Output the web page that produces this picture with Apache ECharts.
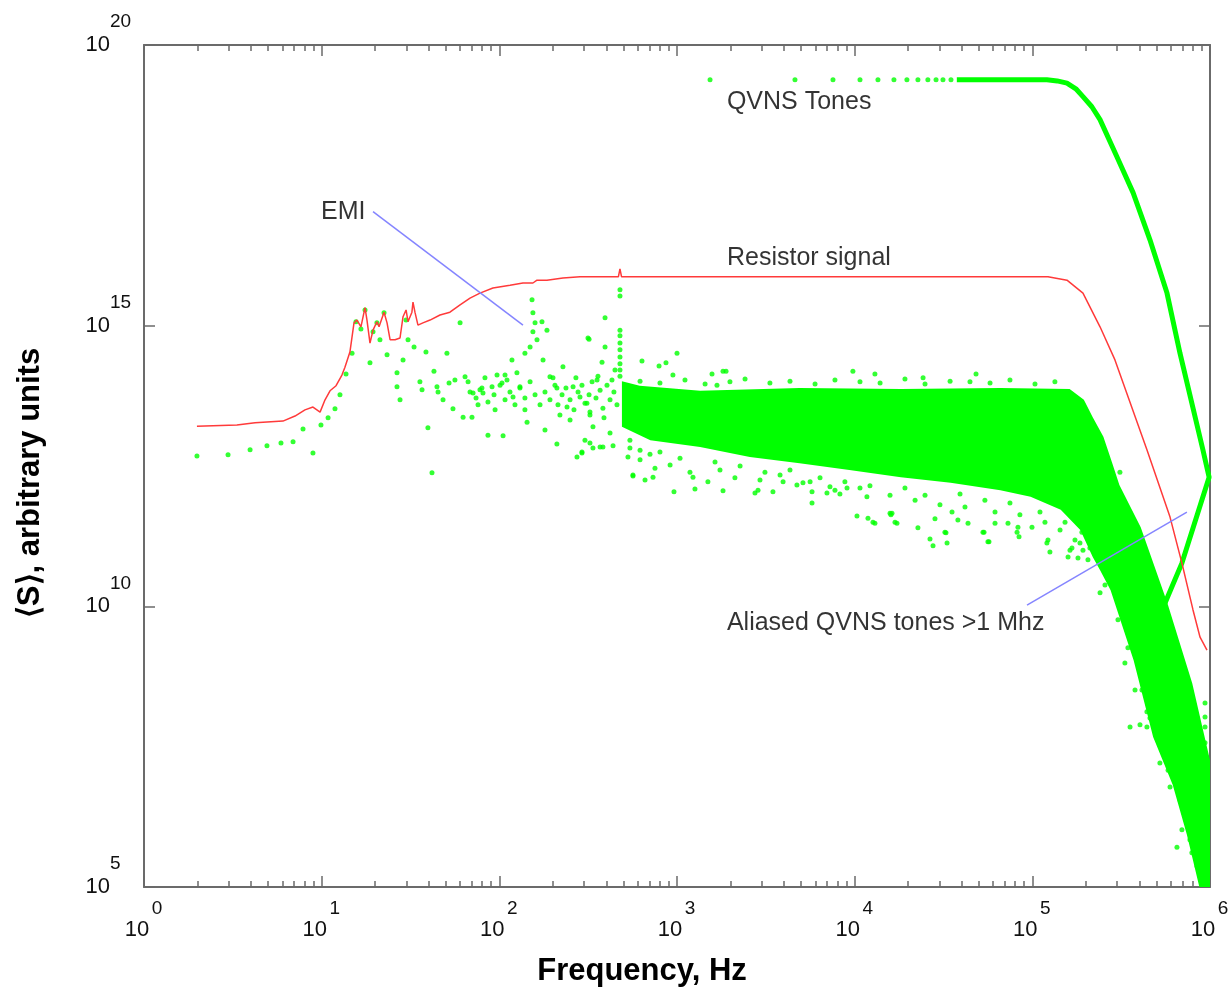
<!DOCTYPE html>
<html>
<head>
<meta charset="utf-8">
<script src="https://cdn.jsdelivr.net/npm/echarts@6/dist/echarts.min.js"></script>
<style>
  html, body { margin: 0; padding: 0; background: #fff; }
  #chart { width: 1231px; height: 996px; }
</style>
</head>
<body>
<div id="chart"></div>
<script>
// every point is [log10 frequency (Hz), log10 <S>]

const resistorSignal = [
  [0.298,13.21],[0.523,13.23],[0.625,13.27],[0.782,13.30],[0.850,13.39],[0.906,13.50],[0.951,13.55],
  [0.991,13.46],[1.019,13.68],[1.047,13.84],[1.081,13.93],[1.114,14.12],[1.131,14.26],[1.159,14.53],
  [1.182,15.05],[1.199,15.10],[1.221,14.98],[1.244,15.32],[1.255,15.10],[1.272,14.69],[1.289,14.92],
  [1.311,15.07],[1.323,14.98],[1.351,15.24],[1.368,15.05],[1.385,14.75],[1.413,14.75],[1.441,14.78],
  [1.458,15.16],[1.475,15.28],[1.486,15.07],[1.508,15.24],[1.514,15.42],[1.525,15.24],[1.542,15.01],
  [1.570,15.05],[1.610,15.10],[1.666,15.19],[1.722,15.24],[1.779,15.37],[1.835,15.49],[1.891,15.58],
  [1.964,15.67],[2.060,15.72],[2.133,15.76],[2.189,15.76],[2.212,15.81],[2.268,15.81],[2.358,15.85],
  [2.454,15.87],[2.640,15.87],[2.670,15.87],[2.679,16.01],[2.688,15.87],[3.000,15.87],[4.000,15.87],
  [5.088,15.87],[5.195,15.81],[5.285,15.58],[5.381,14.98],[5.465,14.39],[5.645,12.79],[5.775,11.59],
  [5.842,10.77],[5.904,9.94],[5.944,9.45],[5.983,9.22]
];

// separate QVNS tones at low frequency, then the merged tone line with its fold-back
const qvnsToneDots = [
  [3.186,19.38],[3.664,19.38],[3.878,19.38],[4.030,19.38],[4.131,19.38],[4.221,19.38],[4.294,19.38],
  [4.356,19.38],[4.412,19.38],[4.458,19.38],[4.497,19.38],[4.542,19.38]
];
const qvnsToneLine = [
  [4.575,19.38],[5.082,19.38],[5.140,19.36],[5.195,19.32],[5.245,19.22],[5.285,19.08],[5.335,18.90],
  [5.381,18.67],[5.476,18.01],[5.567,17.37],[5.662,16.53],[5.758,15.58],[5.831,14.51],[5.960,12.79],
  [5.995,12.30],[5.842,10.77],[5.747,10.06]
];

// outline of the solid green region of the noise spectrum
const noiseBand = [
  [2.69,14.01],[2.79,13.93],[3.13,13.84],[3.69,13.89],[4.26,13.87],[4.82,13.89],[5.21,13.87],
  [5.29,13.68],[5.34,13.37],[5.40,13.02],[5.45,12.55],[5.49,12.16],[5.61,11.41],[5.76,10.06],
  [5.90,8.63],[6.00,7.26],[6.00,5.00],[5.94,5.00],[5.87,5.93],[5.79,6.82],[5.68,7.67],[5.57,9.04],
  [5.44,10.29],[5.38,10.65],[5.34,10.88],[5.27,11.36],[5.16,11.72],[4.99,11.95],[4.82,12.07],
  [4.54,12.20],[4.26,12.30],[3.97,12.43],[3.69,12.55],[3.41,12.66],[3.13,12.84],[2.85,12.96],[2.69,13.20]
];

const noisePoints = [
  [0.298,12.68],[0.473,12.70],[0.597,12.79],[0.692,12.86],[0.771,12.91],[0.839,12.93],[0.895,13.16],
  [0.951,12.73],[0.996,13.23],[1.036,13.36],[1.075,13.52],[1.103,13.77],[1.137,14.14],[1.171,14.51],
  [1.193,15.07],[1.221,14.94],[1.244,15.28],[1.272,14.34],[1.289,14.89],[1.311,15.05],[1.328,14.75],
  [1.351,15.23],[1.368,14.48],[1.424,13.91],[1.424,14.16],[1.441,13.68],[1.458,14.39],[1.475,15.10],
  [1.486,14.75],[1.520,14.62],[1.553,14.00],[1.565,13.86],[1.587,14.53],[1.598,13.18],[1.621,12.38],
  [1.632,14.19],[1.649,13.91],[1.655,13.82],[1.683,13.68],[1.705,14.51],[1.717,13.98],[1.739,13.52],
  [1.750,14.03],[1.779,15.05],[1.796,13.37],[1.807,14.09],[1.824,14.00],[1.846,13.37],[1.852,13.80],
  [1.891,13.86],[1.908,13.80],[1.936,13.05],[1.959,13.91],[1.987,14.12],[2.015,13.98],[2.021,13.04],
  [2.043,14.03],[2.071,14.39],[2.077,13.73],[2.099,14.16],[2.116,13.91],[2.144,14.51],[2.156,13.28],
  [2.173,14.62],[2.184,15.46],[2.189,15.23],[2.201,15.05],[2.189,14.89],[2.212,14.75],[2.240,15.07],
  [2.246,14.39],[2.268,14.92],[2.285,14.09],[2.324,13.89],[2.358,14.27],[2.381,13.55],[2.415,13.91],
  [2.454,13.73],[2.493,13.62],[2.499,14.78],[2.510,12.91],[2.527,13.20],[2.550,14.03],[2.567,12.84],
  [2.595,15.14],[2.595,14.62],[2.623,13.09],[2.651,14.21],
  [2.679,15.64],[2.679,15.53],[2.679,14.92],[2.679,14.82],[2.679,14.69],[2.679,14.57],[2.679,14.44],
  [2.679,14.32],[2.679,14.21],[2.679,14.10],
  [2.257,13.14],[2.324,12.89],[2.437,12.66],[2.465,12.75],[2.527,12.82],[2.583,12.84],[2.640,12.86],
  [2.724,12.66],[2.752,12.34],[2.578,14.35],
  [2.257,13.82],[2.285,13.68],[2.313,13.94],[2.330,13.59],[2.353,13.77],[2.375,13.89],[2.398,13.68],
  [2.420,13.50],[2.443,13.82],[2.465,13.94],[2.482,13.62],[2.505,13.77],[2.522,14.00],[2.544,13.71],
  [2.567,13.85],[2.583,13.53],[2.606,13.94],[2.623,13.68],[2.645,13.82],[2.662,13.59],[2.634,14.03],
  [2.555,14.10],[2.431,14.07],[2.302,14.07],[2.341,13.41],[2.510,13.41],[2.589,13.36],[2.398,13.32],
  [1.835,13.82],[1.869,13.71],[1.902,13.89],[1.936,13.64],[1.970,13.77],[2.004,13.94],[2.032,13.68],
  [2.060,13.82],[2.088,13.59],[2.116,13.89],[2.144,13.71],[2.173,14.00],[2.201,13.77],[2.229,13.59],
  [1.919,14.07],[2.032,14.12],[2.144,13.50],[1.976,13.50],[1.880,13.59],
  [2.510,13.46],[2.482,12.96],[2.465,12.73],
  [2.505,14.76],[2.803,14.37],[3.000,14.51],[2.899,14.28],[2.938,14.34],[2.977,14.12],[3.197,14.14],
  [3.259,14.19],[3.276,14.19],[3.225,13.94],[3.990,14.19],[4.114,14.14],[4.385,14.07],[4.683,14.14],
  [2.752,12.32],[2.820,12.25],[2.865,12.30],[2.983,12.04],[3.101,12.09],[3.174,12.22],[3.259,12.06],
  [3.439,12.02],[3.456,12.07],[3.540,12.04],[3.675,12.16],[3.760,12.04],[3.760,11.84],[3.844,12.02],
  [3.917,12.00],[4.013,11.61],[4.075,11.57],[4.114,11.48],[4.238,11.48],[4.210,11.66],[2.735,12.82],
  [2.792,12.78],[2.848,12.71],[3.090,12.30],[3.597,12.22],[3.709,12.20],[3.861,12.13],[3.957,12.11],
  [4.069,11.95],
  [4.199,11.66],[4.356,11.40],[4.424,11.20],[4.441,11.08],[4.508,11.32],[4.520,11.13],[4.452,11.56],
  [4.548,11.68],[4.581,11.54],[4.638,11.48],[4.728,11.32],[4.756,11.15],[4.790,11.48],[4.863,11.48],
  [4.914,11.32],[4.925,11.24],[4.998,11.41],[5.082,11.13],[5.099,10.97],[5.201,10.88],[5.223,11.04],
  [5.268,11.13],[5.285,11.00],
  [4.103,11.50],[4.204,11.63],[4.227,11.50],[4.514,11.31],[4.722,11.32],[4.750,11.15],[5.212,11.00],
  [5.257,10.86],
  [4.919,11.41],[5.088,11.18],[5.279,11.32],[5.381,10.24],[5.493,12.39],[5.521,8.99],[5.578,8.51],
  [5.550,7.85],[5.606,7.89],[5.645,7.85],[5.645,8.12],[5.718,7.21],[5.775,6.78],[5.814,5.71],
  [5.842,6.02],[5.898,5.61],[5.972,8.28],[5.972,8.03],[5.972,7.85],[5.972,7.57],
  [2.792,14.01],[2.904,13.98],[3.045,14.03],[3.158,13.96],[3.298,14.00],[3.383,14.05],[3.523,13.98],
  [3.636,14.01],[3.777,13.96],[3.889,14.03],[4.030,14.00],[4.143,13.98],[4.283,14.05],[4.396,13.96],
  [4.537,14.01],[4.649,14.00],[4.762,13.98],[4.874,14.03],[5.015,13.96],[5.127,14.00],
  [2.735,12.96],[2.904,12.75],[3.017,12.64],[3.214,12.57],[3.355,12.50],[3.495,12.39],[3.636,12.43],
  [3.805,12.29],[3.945,12.22],[4.086,12.15],[4.283,12.11],[4.396,11.98],[4.593,12.00],[4.733,11.89],
  [4.874,11.84],[5.043,11.68],[5.184,11.50],[5.324,11.04],
  [5.409,10.38],[5.482,9.76],[5.538,9.26],[5.617,8.51],[5.662,8.01],[5.718,7.53],[5.764,7.08],
  [5.831,6.55],[5.887,5.84],[5.927,5.37],
  [2.792,12.61],[2.876,12.46],[2.961,12.52],[3.073,12.39],[3.242,12.43],[3.326,12.29],[3.467,12.25],
  [3.580,12.34],[3.749,12.22],[3.889,12.07],[4.030,12.11],[4.199,11.98],[4.340,11.89],[4.480,11.81],
  [4.621,11.77],[4.790,11.68],[4.930,11.63],[5.071,11.50],[5.156,11.36],[5.240,11.18],[5.313,10.83],
  [2.707,13.77],[2.724,13.50],[2.747,13.32]
];

const emiPointer = [[1.289,17.03],[2.133,15.01]];
const aliasPointer = [[4.970,10.02],[5.870,11.68]];

const noteLabels = [
  [3.281,18.98,'QVNS Tones'],
  [3.281,16.21,'Resistor signal'],
  [0.996,17.03,'EMI'],
  [3.281,9.70,'Aliased QVNS tones >1 Mhz']
];

const xMajor = [1, 10, 100, 1e3, 1e4, 1e5, 1e6];
const yMajor = [1e5, 1e10, 1e15, 1e20];
const minorSteps = [2, 3, 4, 5, 6, 7, 8, 9];

const xMinor = [];
xMajor.slice(0, -1).forEach((d) => minorSteps.forEach((m) => xMinor.push(d * m)));

const GREEN = '#00ff00';
const FRAME = '#6b6b6b';
const FONT = '"Liberation Sans", Arial, sans-serif';
const toXY = (p) => [10 ** p[0], 10 ** p[1]];
const expOf = (v) => String(Math.round(Math.log10(v)));

const hidden = {
  splitLine: { show: false },
  axisLine: { show: false },
  axisTick: { show: false },
  axisLabel: { show: false }
};
const xBase = { type: 'log', logBase: 10, min: 1, max: 1e6, ...hidden };
const yBase = { type: 'log', logBase: 10, min: 1e5, max: 1e20, ...hidden };

const frameLine = { show: true, lineStyle: { color: FRAME, width: 2 } };
const majorTick = (vals) => ({
  show: true, inside: true, length: 11, customValues: vals,
  lineStyle: { color: FRAME, width: 1.5 }
});
const minorTick = { show: true, inside: true, length: 6, customValues: xMinor, lineStyle: { color: FRAME, width: 1.5 } };

const baseLabel = { show: true, fontFamily: FONT, color: '#111' };

const chart = echarts.init(document.getElementById('chart'), null, { renderer: 'canvas' });

chart.setOption({
  animation: false,
  backgroundColor: '#fff',
  grid: { left: 144, right: 21, top: 45, bottom: 109, containLabel: false, outerBoundsMode: 'none' },
  xAxis: [
    {
      ...xBase, position: 'bottom',
      axisLine: frameLine,
      axisTick: majorTick(xMajor),
      axisLabel: { ...baseLabel, customValues: xMajor, fontSize: 22, margin: 8, padding: [24, 14, 0, 0], formatter: () => '10' },
      name: 'Frequency, Hz',
      nameLocation: 'middle',
      nameGap: 69,
      nameTextStyle: { fontFamily: FONT, fontSize: 31, fontWeight: 'bold', color: '#000', padding: [0, 70, 0, 0] }
    },
    {
      ...xBase, position: 'bottom',
      axisLabel: { ...baseLabel, customValues: xMajor, fontSize: 19, margin: 12, padding: [0, 0, 0, 26], formatter: expOf }
    },
    { ...xBase, position: 'bottom', axisTick: minorTick },
    { ...xBase, position: 'top', axisLine: frameLine, axisTick: majorTick(xMajor) },
    { ...xBase, position: 'top', axisTick: minorTick }
  ],
  yAxis: [
    {
      ...yBase, position: 'left',
      axisLine: frameLine,
      axisTick: majorTick(yMajor),
      axisLabel: { ...baseLabel, customValues: yMajor, fontSize: 22, margin: 34, align: 'right', formatter: () => '10' },
      name: '\u27e8S\u27e9, arbitrary units',
      nameLocation: 'middle',
      nameGap: 98,
      nameRotate: 90,
      nameTextStyle: { fontFamily: FONT, fontSize: 31, fontWeight: 'bold', color: '#000', padding: [0, 34, 0, 0] }
    },
    {
      ...yBase, position: 'left',
      axisLabel: {
        ...baseLabel, customValues: yMajor, fontSize: 19, margin: 34,
        align: 'left', verticalAlign: 'bottom', lineHeight: 46, formatter: expOf
      }
    },
    { ...yBase, position: 'right', axisLine: frameLine, axisTick: majorTick(yMajor) }
  ],
  series: [
    {
      name: 'noise band',
      type: 'custom',
      z: 1,
      silent: true,
      data: [[1e3, 1e13]],
      renderItem: (params, api) => ({
        type: 'polygon',
        shape: { points: noiseBand.map((p) => api.coord(toXY(p))) },
        style: { fill: GREEN }
      })
    },
    {
      name: 'noise points',
      type: 'scatter',
      z: 2,
      symbol: 'circle',
      symbolSize: 5,
      itemStyle: { color: GREEN },
      data: noisePoints.map(toXY)
    },
    {
      name: 'QVNS tones',
      type: 'scatter',
      z: 2,
      symbol: 'circle',
      symbolSize: 5,
      itemStyle: { color: GREEN },
      data: qvnsToneDots.map(toXY)
    },
    {
      name: 'QVNS tone line',
      type: 'line',
      z: 2,
      symbol: 'none',
      lineStyle: { color: GREEN, width: 5 },
      data: qvnsToneLine.map(toXY)
    },
    {
      name: 'Resistor signal',
      type: 'line',
      z: 3,
      symbol: 'none',
      lineStyle: { color: '#ff3a3a', width: 1.5 },
      data: resistorSignal.map(toXY)
    },
    {
      name: 'EMI pointer',
      type: 'line',
      z: 4,
      symbol: 'none',
      lineStyle: { color: '#8585ff', width: 1.5 },
      data: emiPointer.map(toXY)
    },
    {
      name: 'alias pointer',
      type: 'line',
      z: 4,
      symbol: 'none',
      lineStyle: { color: '#8585ff', width: 1.5 },
      data: aliasPointer.map(toXY)
    },
    {
      name: 'notes',
      type: 'scatter',
      z: 5,
      symbolSize: 0,
      silent: true,
      label: {
        show: true,
        position: 'right',
        distance: 0,
        formatter: '{b}',
        fontFamily: FONT,
        fontSize: 25,
        color: '#000'
      },
      data: noteLabels.map((n) => ({ name: n[2], value: toXY(n) }))
    }
  ]
});
</script>
</body>
</html>
